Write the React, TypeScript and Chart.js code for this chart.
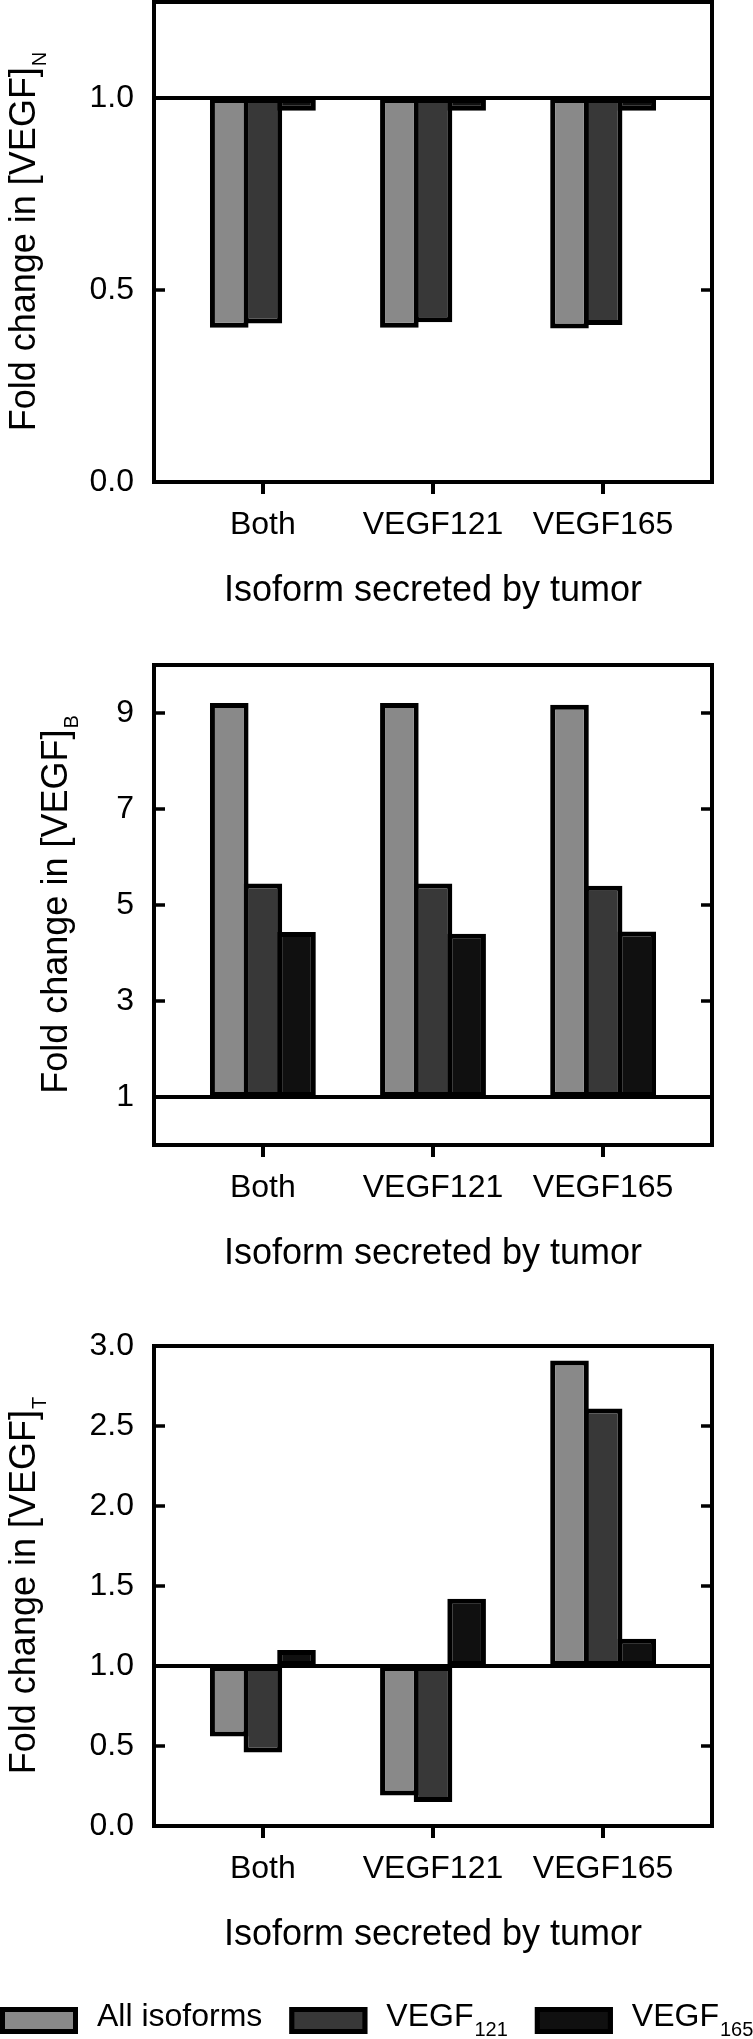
import React, { useEffect, useRef } from 'react';
import { Chart, registerables } from 'chart.js';

Chart.register(...registerables);

// ---------- data ----------
const categories = ['Both', 'VEGF121', 'VEGF165'];
const categoryPositions = [1, 2, 3];

const seriesMain = ['All isoforms', 'VEGF', 'VEGF'];
const seriesSub = ['', '121', '165'];
const seriesColors = ['#898989', '#383838', '#101010'];

// Panel 1: [VEGF]N
const normalAll = [0.402, 0.402, 0.4];
const normal121 = [0.413, 0.416, 0.409];
const normal165 = [0.967, 0.967, 0.967];
const normalTicks = [0, 0.5, 1.0];

// Panel 2: [VEGF]B
const bloodAll = [9.21, 9.21, 9.17];
const blood121 = [5.45, 5.45, 5.4];
const blood165 = [4.44, 4.4, 4.45];
const bloodTicks = [1, 3, 5, 7, 9];

// Panel 3: [VEGF]T
const tumorAll = [0.56, 0.19, 2.91];
const tumor121 = [0.46, 0.15, 2.61];
const tumor165 = [1.1, 1.42, 1.17];
const tumorTicks = [0, 0.5, 1.0, 1.5, 2.0, 2.5, 3.0];

const xTitle = 'Isoform secreted by tumor';
const yTitleMain = 'Fold change in [VEGF]';

// ---------- layout ----------
const FONT = '"Liberation Sans", Arial, Helvetica, sans-serif';
const XH = 140;
const PLOT_LEFT = 154;
const PAD_RIGHT = 41;
const LINE = 4;
const BAR_BORDER = 5;

type Panel = {
  series: number[][];
  yMin: number;
  yMax: number;
  ticks: number[];
  decimals: number;
  sub: string;
  titleX: number;
  top: number;
  height: number;
  areaTop: number;
  areaBottom: number;
  legend: boolean;
};

const panels: Panel[] = [
  { series: [normalAll, normal121, normal165], yMin: 0, yMax: 1.25, ticks: normalTicks, decimals: 1, sub: 'N', titleX: 35, top: 0, height: 640, areaTop: 2, areaBottom: 482, legend: false },
  { series: [bloodAll, blood121, blood165], yMin: 0, yMax: 10, ticks: bloodTicks, decimals: 0, sub: 'B', titleX: 67, top: 640, height: 660, areaTop: 25, areaBottom: 505, legend: false },
  { series: [tumorAll, tumor121, tumor165], yMin: 0, yMax: 3, ticks: tumorTicks, decimals: 1, sub: 'T', titleX: 35, top: 1300, height: 739, areaTop: 46, areaBottom: 526, legend: true },
];

const framePlugin = {
  id: 'frameDeco',
  afterDatasetsDraw(chart: any, _args: any, opts: any) {
    const { ctx, chartArea: a } = chart;
    const y = chart.scales.y;
    ctx.save();
    ctx.strokeStyle = '#000';
    // reference line at 1
    ctx.lineWidth = LINE;
    const yr = y.getPixelForValue(1);
    ctx.beginPath();
    ctx.moveTo(a.left, yr);
    ctx.lineTo(a.right, yr);
    ctx.stroke();
    // frame
    ctx.lineWidth = LINE;
    ctx.strokeRect(a.left, a.top, a.right - a.left, a.bottom - a.top);
    // inward ticks
    ctx.lineWidth = 3.5;
    y.ticks.forEach((t: any) => {
      const py = y.getPixelForValue(t.value);
      if (py <= a.top + 3 || py >= a.bottom - 3) return;
      ctx.beginPath();
      ctx.moveTo(a.left, py);
      ctx.lineTo(a.left + 11, py);
      ctx.moveTo(a.right - 11, py);
      ctx.lineTo(a.right, py);
      ctx.stroke();
    });
    ctx.restore();

    // y title with subscript
    ctx.save();
    const centerY = (a.top + a.bottom) / 2;
    const mainFont = `36px ${FONT}`;
    const subFont = `20px ${FONT}`;
    ctx.font = mainFont;
    const wm = ctx.measureText(yTitleMain).width;
    ctx.font = subFont;
    const ws = ctx.measureText(opts.sub).width;
    const total = wm + ws;
    ctx.translate(opts.titleX, centerY);
    ctx.rotate(-Math.PI / 2);
    ctx.fillStyle = '#000';
    ctx.textAlign = 'left';
    ctx.textBaseline = 'alphabetic';
    ctx.font = mainFont;
    ctx.fillText(yTitleMain, -total / 2, 0);
    ctx.font = subFont;
    ctx.fillText(opts.sub, -total / 2 + wm + 1, 11);
    ctx.restore();
  },
  afterDraw(chart: any, _args: any, opts: any) {
    if (!opts.legend) return;
    const { ctx } = chart;
    ctx.save();
    const top = chart.height - 32;
    const boxW = 78;
    const boxH = 27;
    const bw = BAR_BORDER;
    let x = 0;
    for (let i = 0; i < seriesMain.length; i++) {
      ctx.fillStyle = seriesColors[i];
      ctx.fillRect(x, top, boxW, boxH);
      ctx.strokeStyle = '#000';
      ctx.lineWidth = bw;
      ctx.strokeRect(x + bw / 2, top + bw / 2, boxW - bw, boxH - bw);
      x += boxW + 19;
      ctx.fillStyle = '#000';
      ctx.textAlign = 'left';
      ctx.textBaseline = 'alphabetic';
      ctx.font = `32px ${FONT}`;
      ctx.fillText(seriesMain[i], x, top + 19);
      x += ctx.measureText(seriesMain[i]).width;
      if (seriesSub[i]) {
        ctx.font = `20px ${FONT}`;
        ctx.fillText(seriesSub[i], x + 1, top + 29);
        x += ctx.measureText(seriesSub[i]).width + 1;
      }
      x += 27;
    }
    ctx.restore();
  },
};

function makeConfig(p: Panel): any {
  return {
    type: 'bar',
    data: {
      datasets: p.series.map((vals, i) => ({
        label: seriesMain[i] + seriesSub[i],
        data: vals.map((v, j) => ({ x: categoryPositions[j], y: v })),
        base: 1,
        backgroundColor: seriesColors[i],
        borderColor: '#000',
        borderWidth: BAR_BORDER,
        borderSkipped: false,
        categoryPercentage: 0.593,
        barPercentage: 1.1485,
      })),
    },
    options: {
      animation: false,
      responsive: false,
      maintainAspectRatio: false,
      events: [],
      layout: {
        padding: { top: p.areaTop, left: 0, right: PAD_RIGHT, bottom: p.height - p.areaBottom - XH },
      },
      plugins: {
        legend: { display: false },
        tooltip: { enabled: false },
        title: { display: false },
        frameDeco: { sub: p.sub, legend: p.legend, titleX: p.titleX },
      },
      scales: {
        x: {
          type: 'linear',
          position: 'bottom',
          min: 0.36,
          max: 3.64,
          offset: false,
          afterBuildTicks: (s: any) => {
            s.ticks = categoryPositions.map((v) => ({ value: v }));
          },
          afterFit: (s: any) => {
            s.height = XH;
            s.paddingLeft = 0;
            s.paddingRight = 0;
            s.paddingTop = 0;
            s.paddingBottom = 0;
          },
          grid: {
            display: true,
            drawOnChartArea: false,
            drawTicks: true,
            tickLength: 12,
            tickWidth: 4,
            tickColor: '#000',
            color: '#000',
            lineWidth: 4,
            offset: false,
          },
          border: { display: false },
          ticks: {
            padding: 12,
            color: '#000',
            autoSkip: false,
            maxRotation: 0,
            minRotation: 0,
            font: { family: FONT, size: 32 },
            callback: (_v: any, idx: number) => categories[idx],
          },
          title: {
            display: true,
            text: xTitle,
            color: '#000',
            font: { family: FONT, size: 36 },
            padding: { top: 0, bottom: 9 },
          },
        },
        y: {
          type: 'linear',
          min: p.yMin,
          max: p.yMax,
          afterBuildTicks: (s: any) => {
            s.ticks = p.ticks.map((v) => ({ value: v }));
          },
          afterFit: (s: any) => {
            s.width = PLOT_LEFT;
            s.paddingTop = 0;
            s.paddingBottom = 0;
            s.paddingLeft = 0;
            s.paddingRight = 0;
          },
          grid: { display: false, drawTicks: false, drawOnChartArea: false },
          border: { display: false },
          ticks: {
            padding: 20,
            color: '#000',
            autoSkip: false,
            font: { family: FONT, size: 32 },
            callback: (v: any) => Number(v).toFixed(p.decimals),
          },
        },
      },
    },
    plugins: [framePlugin],
  };
}

function PanelChart({ panel }: { panel: Panel }) {
  const ref = useRef<HTMLCanvasElement | null>(null);
  useEffect(() => {
    if (!ref.current) return;
    const chart = new Chart(ref.current, makeConfig(panel));
    return () => chart.destroy();
  }, [panel]);
  return (
    <canvas
      ref={ref}
      width={753}
      height={panel.height}
      style={{ position: 'absolute', left: 0, top: panel.top, width: 753, height: panel.height, display: 'block' }}
    />
  );
}

export default function App() {
  return (
    <div style={{ position: 'absolute', left: 0, top: 0, width: 753, height: 2039, background: '#fff', overflow: 'hidden' }}>
      {panels.map((p, i) => (
        <PanelChart key={i} panel={p} />
      ))}
    </div>
  );
}
